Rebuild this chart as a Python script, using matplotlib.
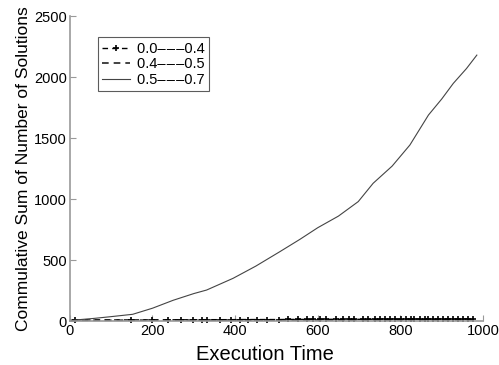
import matplotlib
matplotlib.use("Agg")
import matplotlib.pyplot as plt

plt.rcParams['font.family'] = ['Liberation Sans', 'DejaVu Sans']

# Series 0.0---0.4 (markers near zero)
s1_x = [13, 148, 200, 237, 268, 297, 321, 333, 363, 391, 412, 432, 452, 477, 505, 529,
        553, 573, 589, 605, 621, 645, 661, 676, 688, 709, 721, 738, 750, 762, 774, 786,
        802, 814, 826, 834, 847, 859, 867, 879, 891, 903, 915, 927, 939, 952, 964, 976]
s1_y = [8, 9, 9, 10, 10, 10, 11, 11, 11, 11, 12, 12, 12, 12, 12, 13,
        13, 13, 13, 13, 14, 14, 14, 14, 14, 14, 14, 15, 15, 15, 15, 15,
        15, 15, 16, 16, 16, 16, 16, 16, 16, 17, 17, 17, 17, 17, 18, 18]

# Series 0.4---0.5 (dashed near zero)
s2_x = [0, 200, 400, 600, 800, 985]
s2_y = [6, 7, 8, 9, 10, 11]

# Series 0.5---0.7 (solid, growing)
s3_x = [12, 60, 100, 152, 200, 250, 300, 331, 395, 450, 508, 557, 600, 650, 698,
        734, 780, 823, 868, 900, 928, 960, 985]
s3_y = [8, 22, 36, 55, 105, 170, 225, 254, 350, 450, 568, 670, 765, 860, 979,
        1129, 1270, 1443, 1689, 1820, 1948, 2070, 2180]

sep = '\u2013\u200a\u2013\u200a\u2013'
labels = ['0.0' + sep + '0.4', '0.4' + sep + '0.5', '0.5' + sep + '0.7']

fig = plt.figure(figsize=(4.99, 3.65), dpi=100)
ax = fig.add_axes([0.140, 0.1205, 0.828, 0.8355])

ax.plot(s2_x, s2_y, linestyle=(0, (4, 3)), color='#222222', linewidth=1.2,
        label=labels[1], clip_on=False)
ax.plot(s1_x, s1_y, linestyle=(0, (4, 3)), color='black', marker='+', markersize=5,
        markeredgewidth=1.2, linewidth=1.0, label=labels[0], clip_on=False)
ax.plot(s3_x, s3_y, linestyle='-', color='#444444', linewidth=0.8, label=labels[2])

ax.set_xlim(0, 1000)
ax.set_ylim(0, 2500)
ax.set_xticks([0, 200, 400, 600, 800, 1000])
ax.set_yticks([0, 500, 1000, 1500, 2000, 2500])

for side in ['top', 'right']:
    ax.spines[side].set_visible(False)
for side in ['left', 'bottom']:
    ax.spines[side].set_color('#999999')
    ax.spines[side].set_linewidth(1.2)
ax.tick_params(direction='in', length=4, color='#999999', labelsize=10.5, pad=2)

ax.set_xlabel('Execution Time', fontsize=14.5, labelpad=2)
ax.xaxis.set_label_coords(0.472, -0.078)
ax.set_ylabel('Commulative Sum of Number of Solutions', fontsize=12.5, labelpad=2)

handles, labs = ax.get_legend_handles_labels()
order = [1, 0, 2]
leg = ax.legend([handles[i] for i in order], [labs[i] for i in order],
                loc='upper left', bbox_to_anchor=(0.068, 0.93), fontsize=10.5,
                frameon=True, fancybox=False, handlelength=1.9, borderpad=0.3,
                labelspacing=0.1, handletextpad=0.5, borderaxespad=0)
leg.get_frame().set_edgecolor('#333333')
leg.get_frame().set_linewidth(0.8)

fig.savefig('out.png', dpi=100)
